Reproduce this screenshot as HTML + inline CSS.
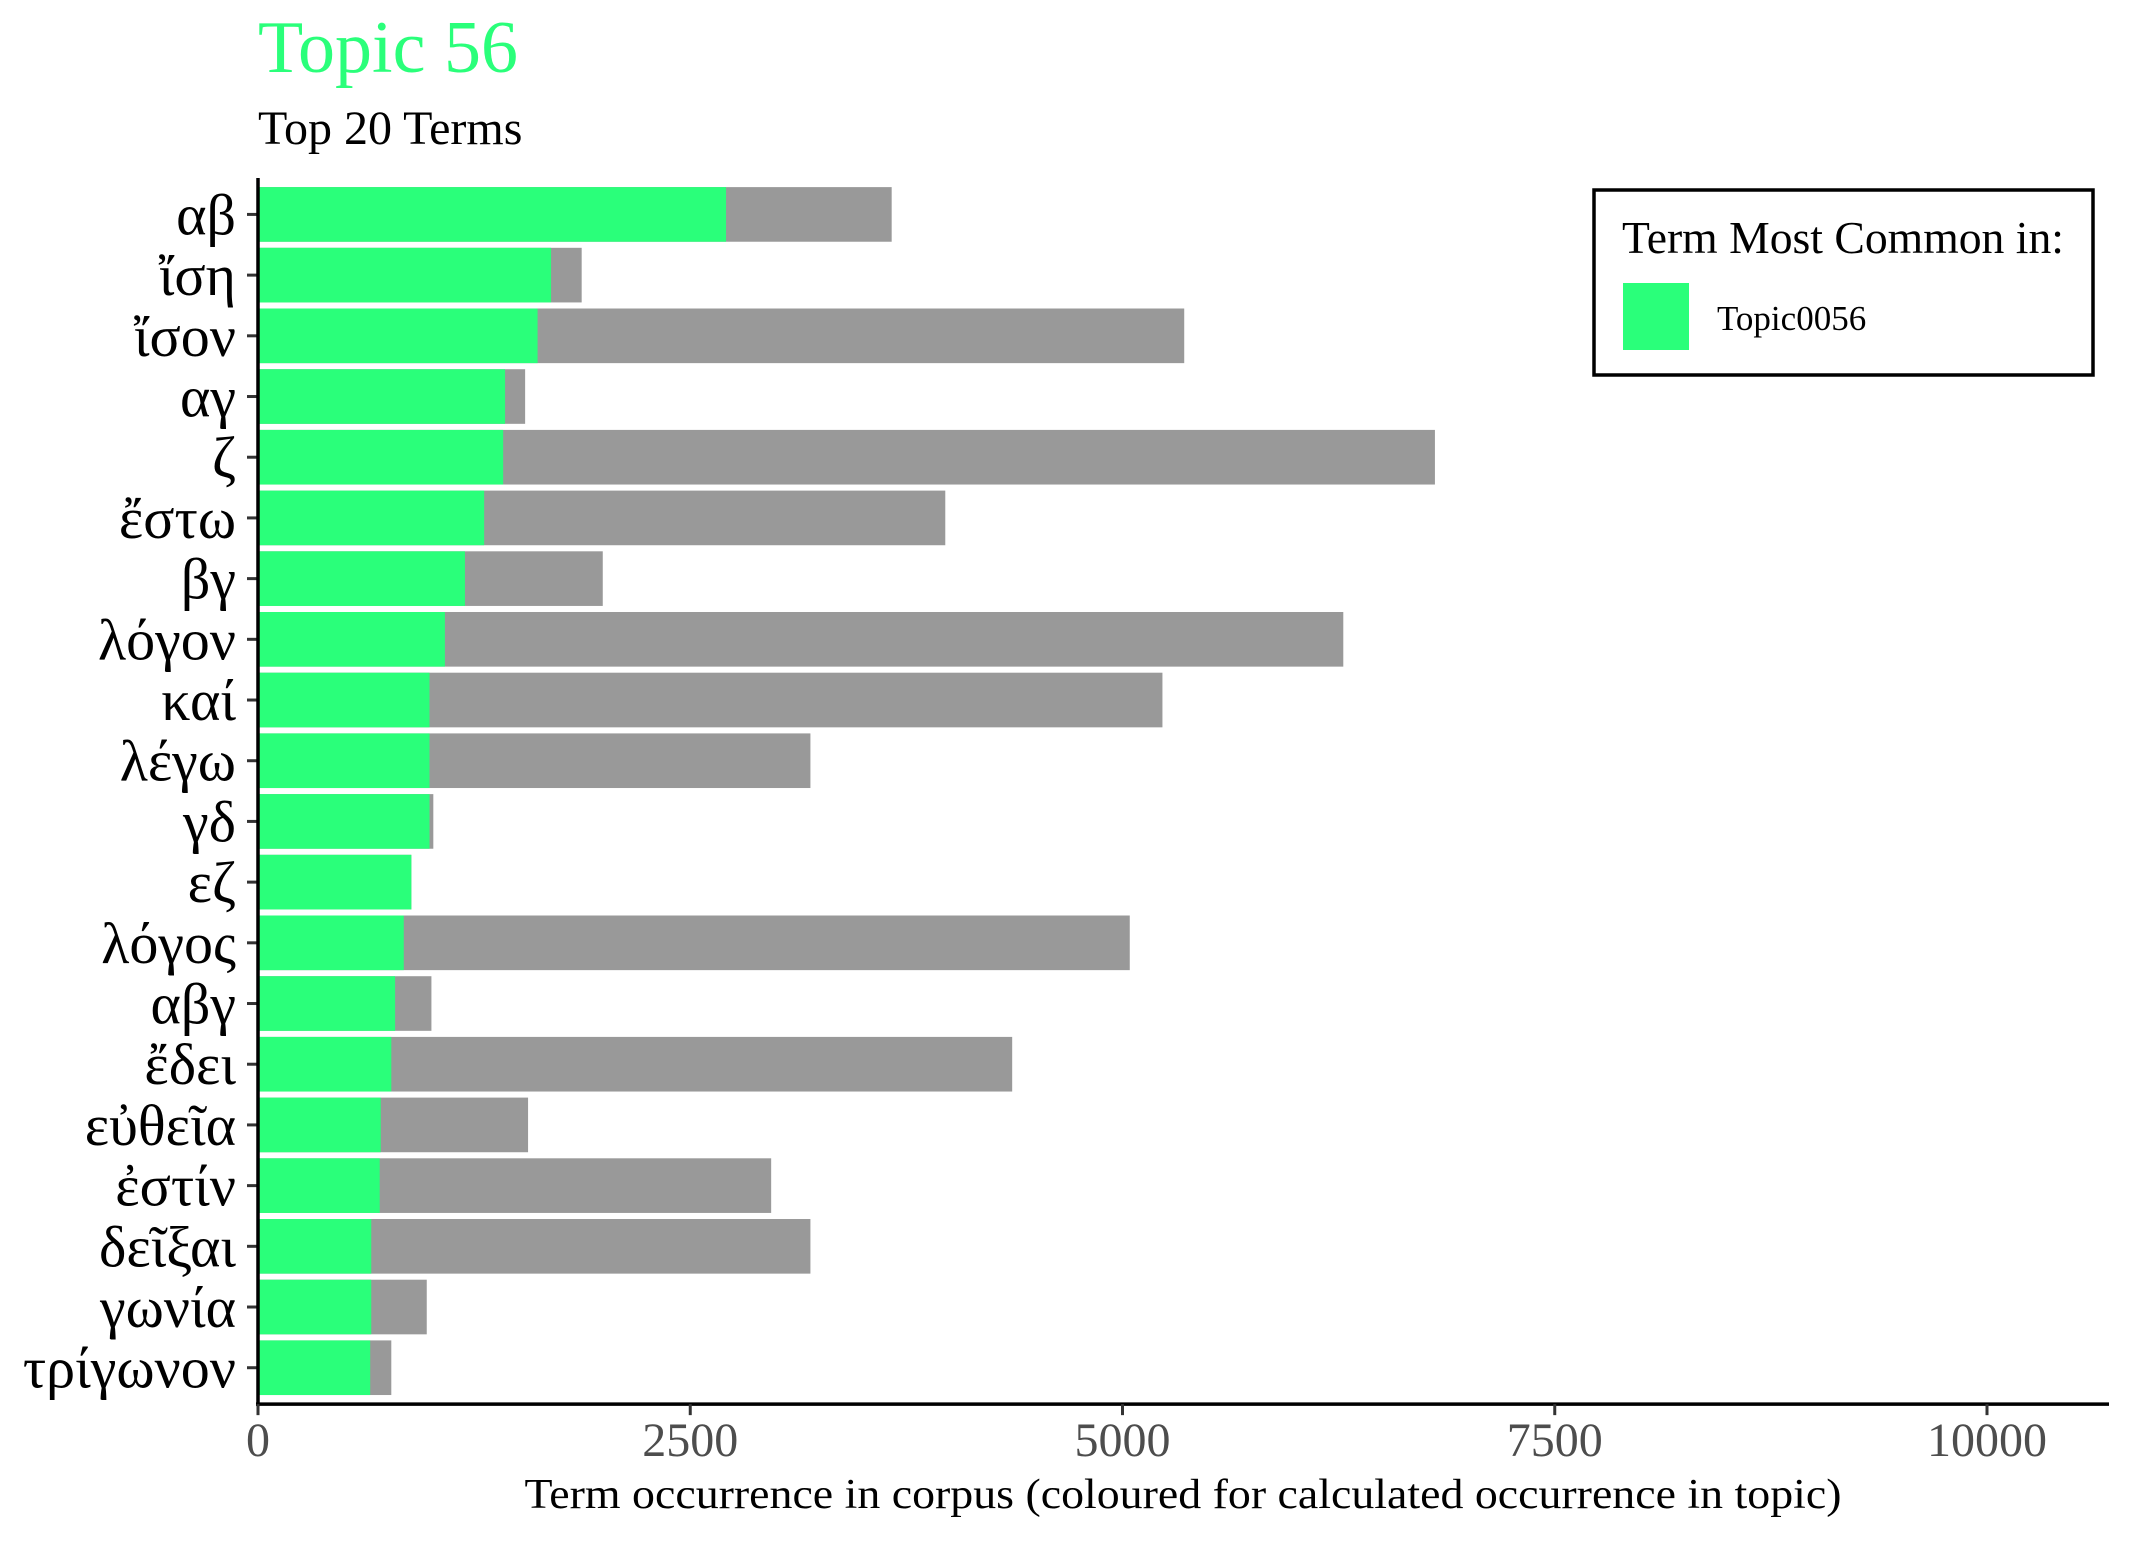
<!DOCTYPE html>
<html><head><meta charset="utf-8"><style>
html,body{margin:0;padding:0;background:#fff;}
svg{display:block;font-family:"Liberation Serif","DejaVu Serif",serif;}
</style></head><body>
<svg id="chart" width="2133" height="1541" viewBox="0 0 2133 1541" xmlns="http://www.w3.org/2000/svg">
<rect width="2133" height="1541" fill="#fff"/>
<text x="258" y="72" font-size="74" fill="#2AFF7A">Topic 56</text>
<text x="258" y="144" font-size="48" fill="#000">Top 20 Terms</text>
<g id="bars"></g>
<g id="yaxis"></g>
<g id="xaxis"></g>
<text x="1183" y="1508" font-size="42" text-anchor="middle" textLength="1317" lengthAdjust="spacingAndGlyphs">Term occurrence in corpus (coloured for calculated occurrence in topic)</text>
<g>
<rect x="1594" y="190" width="499" height="185" fill="#fff" stroke="#000" stroke-width="3.5"/>
<text x="1622" y="253" font-size="46" textLength="442" lengthAdjust="spacingAndGlyphs">Term Most Common in:</text>
<rect x="1623" y="283" width="66" height="67" fill="#2AFF7A"/>
<text x="1717" y="330" font-size="35">Topic0056</text>
</g>
</svg>
<script>
const terms = ["αβ","ἴση","ἴσον","αγ","ζ","ἔστω","βγ","λόγον","καί","λέγω","γδ","εζ","λόγος","αβγ","ἔδει","εὐθεῖα","ἐστίν","δεῖξαι","γωνία","τρίγωνον"];
const topicCounts = [2707,1695,1617,1429,1418,1308,1197,1081,992,992,992,887,843,793,771,710,704,655,655,649];
const corpusCounts = [3665,1872,5357,1545,6807,3975,1994,6277,5231,3195,1014,887,5042,1003,4362,1562,2968,3195,976,771];
const xTicks = [0,2500,5000,7500,10000];

const NS = "http://www.w3.org/2000/svg";
const x0 = 258, pxPerUnit = 1729/10000;
const xScale = v => x0 + v*pxPerUnit;
const step = 60.7, bandTop = 178;
const yCenter = i => bandTop + step*0.6 + i*step;
const barH = step*0.9;
const axisY = bandTop + step*0.6*2 + step*(terms.length-1);

function mk(tag, attrs){const e=document.createElementNS(NS,tag);for(const k in attrs)e.setAttribute(k,attrs[k]);return e;}
const bars=document.getElementById('bars'), ya=document.getElementById('yaxis'), xa=document.getElementById('xaxis');

terms.forEach((t,i)=>{
  const yc=yCenter(i);
  const g=mk('rect',{x:x0,y:yc-barH/2,width:xScale(corpusCounts[i])-x0,height:barH,fill:'#999999'});
  
  
  bars.appendChild(g);
  const r=mk('rect',{x:x0,y:yc-barH/2,width:xScale(topicCounts[i])-x0,height:barH,fill:'#2AFF7A'});
  
  
  bars.appendChild(r);
  const tk=mk('line',{x1:247,x2:258,y1:yc,y2:yc,stroke:'#333',"stroke-width":3});
  
  
  ya.appendChild(tk);
  const lb=mk('text',{x:236,y:yc+20,"font-size":58,"text-anchor":"end"});
  
  
  lb.textContent=t;
  ya.appendChild(lb);
});
const yl=mk('line',{x1:x0,x2:x0,y1:bandTop,y2:axisY+2,stroke:'#000',"stroke-width":3.5});


ya.appendChild(yl);
const xl=mk('line',{x1:x0-2,x2:2109,y1:axisY,y2:axisY,stroke:'#000',"stroke-width":3.5});


xa.appendChild(xl);
xTicks.forEach(v=>{
  const x=xScale(v);
  const tk=mk('line',{x1:x,x2:x,y1:axisY,y2:axisY+11,stroke:'#333',"stroke-width":3});
  
  
  xa.appendChild(tk);
  const lb=mk('text',{x:x,y:1456,"font-size":48,"text-anchor":"middle",fill:'#4d4d4d'});
  
  
  lb.textContent=String(v);
  xa.appendChild(lb);
});
</script>
</body></html>
